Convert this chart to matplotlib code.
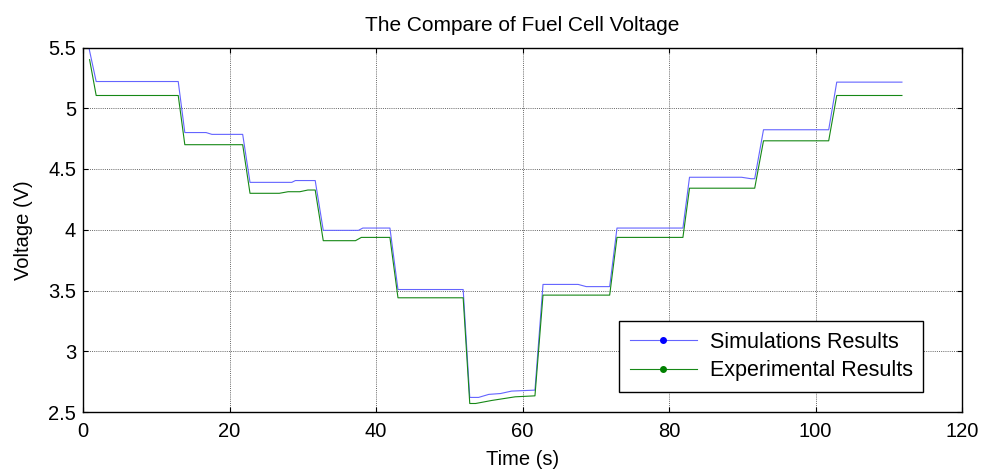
import matplotlib
matplotlib.use("Agg")
import matplotlib.pyplot as plt
from matplotlib.lines import Line2D

plt.rcParams['font.family'] = ['Liberation Sans', 'DejaVu Sans']

# Simulated fuel cell voltage (breakpoints of the step profile)
sim_time = [0.8, 1.8, 13.0, 13.9, 16.8, 17.6, 21.8, 22.8, 28.5, 29.0, 31.7, 32.8,
            37.6, 38.2, 41.9, 43.0, 51.9, 52.8, 54.0, 55.4, 57.0, 58.5, 61.7,
            62.8, 67.6, 68.7, 71.9, 72.9, 81.9, 82.8, 89.9, 91.2, 91.7, 92.9,
            101.8, 102.9, 111.8]
sim_volt = [5.50, 5.22, 5.22, 4.80, 4.80, 4.785, 4.785, 4.39, 4.39, 4.405, 4.405, 3.995,
            3.995, 4.014, 4.014, 3.508, 3.508, 2.62, 2.62, 2.645, 2.652, 2.672, 2.68,
            3.55, 3.55, 3.532, 3.532, 4.014, 4.014, 4.432, 4.432, 4.42, 4.42, 4.823,
            4.823, 5.215, 5.215]

# Measured fuel cell voltage
exp_time = [0.9, 1.8, 13.0, 13.9, 21.8, 22.8, 26.8, 28.0, 29.6, 30.7, 31.7, 32.8,
            37.2, 38.0, 41.9, 43.0, 51.9, 52.8, 53.6, 55.8, 59.0, 61.7, 62.8,
            71.9, 72.9, 81.9, 82.8, 91.7, 92.9, 101.8, 102.9, 111.8]
exp_volt = [5.40, 5.105, 5.105, 4.70, 4.70, 4.30, 4.30, 4.313, 4.313, 4.327, 4.327, 3.91,
            3.91, 3.937, 3.937, 3.44, 3.44, 2.57, 2.57, 2.595, 2.625, 2.633, 3.462,
            3.462, 3.937, 3.937, 4.342, 4.342, 4.732, 4.732, 5.105, 5.105]

x_ticks = [0, 20, 40, 60, 80, 100, 120]
y_ticks = [2.5, 3, 3.5, 4, 4.5, 5, 5.5]
y_tick_labels = ['2.5', '3', '3.5', '4', '4.5', '5', '5.5']

sim_color = '#6464ff'
exp_color = '#168816'

fig = plt.figure(figsize=(9.84, 4.71), dpi=100)
ax = fig.add_axes([83 / 984, 1 - 412 / 471, 879 / 984, 364.5 / 471])

ax.plot(sim_time, sim_volt, color=sim_color, lw=0.8)
ax.plot(exp_time, exp_volt, color=exp_color, lw=0.8)

ax.set_xlim(0, 120)
ax.set_ylim(2.5, 5.5)
ax.set_xticks(x_ticks)
ax.set_xticklabels([str(v) for v in x_ticks])
ax.set_yticks(y_ticks)
ax.set_yticklabels(y_tick_labels)

ax.grid(True, color='0.4', linestyle=(0, (1, 1.2)), linewidth=0.7)
ax.tick_params(direction='in', length=3.5, width=0.8, top=True, right=True,
               labelsize=14.5, pad=5)
ax.tick_params(axis='x', pad=7)
for s in ax.spines.values():
    s.set_linewidth(1.0)
    s.set_color('black')

ax.set_title('The Compare of Fuel Cell Voltage', fontsize=15, pad=12)
ax.set_xlabel('Time (s)', fontsize=14.5, labelpad=7)
ax.set_ylabel('Voltage (V)', fontsize=14.5, labelpad=11)

handles = [
    Line2D([], [], color=sim_color, lw=0.8, marker='.', markersize=8,
           markerfacecolor='blue', markeredgecolor='blue'),
    Line2D([], [], color=exp_color, lw=0.8, marker='.', markersize=8,
           markerfacecolor='green', markeredgecolor='green'),
]
leg = ax.legend(handles, ['Simulations Results', 'Experimental Results'],
                loc='lower right', bbox_to_anchor=(0.956, 0.055),
                borderaxespad=0, fontsize=15.5, fancybox=False, framealpha=1,
                edgecolor='black', handlelength=3.1, numpoints=1,
                borderpad=0.5, labelspacing=0.35, handletextpad=0.6)
leg.get_frame().set_linewidth(1.0)

fig.savefig('out.png', dpi=100)
